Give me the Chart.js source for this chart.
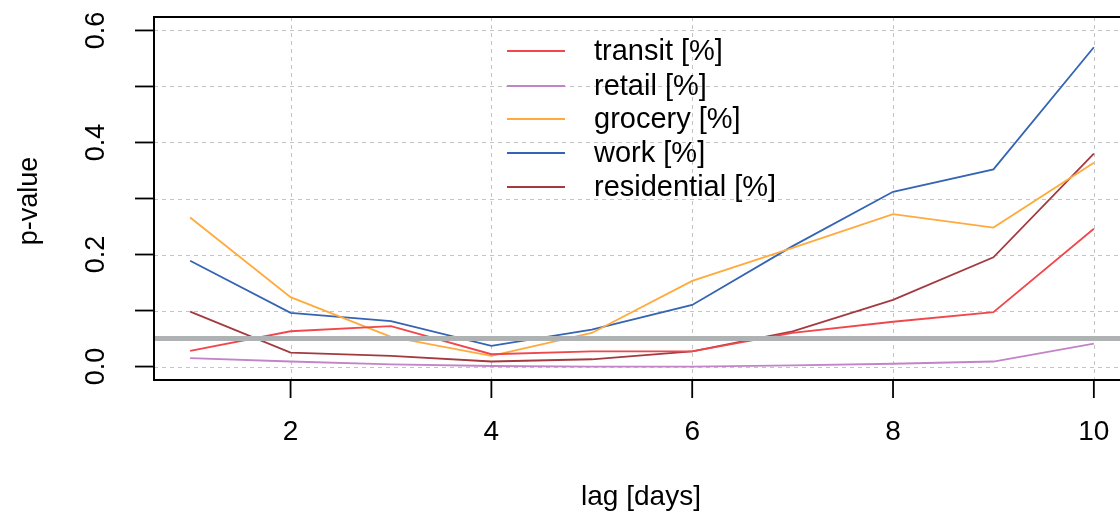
<!DOCTYPE html>
<html>
<head>
<meta charset="utf-8">
<script src="https://cdn.jsdelivr.net/npm/chart.js@4.4.1/dist/chart.umd.min.js"></script>
<style>
  html, body { margin: 0; padding: 0; overflow: hidden; background: #fff; }
  #wrap { width: 1140px; height: 517px; }
</style>
</head>
<body>
<div id="wrap"><canvas id="grafica" width="1140" height="517"></canvas></div>
<script>
const lags = [1, 2, 3, 4, 5, 6, 7, 8, 9, 10];
const transit = [0.028, 0.063, 0.072, 0.022, 0.027, 0.027, 0.060, 0.080, 0.097, 0.246];
const retail = [0.015, 0.009, 0.004, 0.001, 0.000, 0.000, 0.002, 0.005, 0.009, 0.041];
const grocery = [0.266, 0.124, 0.053, 0.019, 0.060, 0.153, 0.212, 0.272, 0.248, 0.364];
const work = [0.189, 0.096, 0.081, 0.037, 0.066, 0.110, 0.215, 0.312, 0.352, 0.570];
const residential = [0.098, 0.025, 0.019, 0.009, 0.013, 0.027, 0.063, 0.119, 0.195, 0.380];

const seriesNames = ['transit [%]', 'retail [%]', 'grocery [%]', 'work [%]', 'residential [%]'];
const seriesColors = ['#F0474C', '#C383C9', '#FFAA3C', '#3564B4', '#A33A40'];
const xTicks = [2, 4, 6, 8, 10];
const yTicks = [0, 0.1, 0.2, 0.3, 0.4, 0.5, 0.6];
const yLabels = [0, 0.2, 0.4, 0.6];
const threshold = 0.05;

const FONT = '"Liberation Sans", Arial, sans-serif';

function toPoints(values) {
    return values.map((v, i) => ({ x: lags[i], y: v }));
}

const allSeries = [transit, retail, grocery, work, residential];

const rPlot = {
    id: 'rPlot',
    beforeDatasetsDraw(chart) {
        const ctx = chart.ctx;
        const xs = chart.scales.x;
        const ys = chart.scales.y;
        const a = chart.chartArea;
        ctx.save();
        // dotted grid
        ctx.strokeStyle = '#c4c4c4';
        ctx.lineWidth = 1;
        ctx.setLineDash([4, 4]);
        xTicks.forEach(t => {
            const px = Math.round(xs.getPixelForValue(t)) + 0.5;
            ctx.beginPath(); ctx.moveTo(px, a.top); ctx.lineTo(px, a.bottom); ctx.stroke();
        });
        yTicks.forEach(t => {
            const py = Math.round(ys.getPixelForValue(t)) + 0.5;
            ctx.beginPath(); ctx.moveTo(a.left, py); ctx.lineTo(a.right, py); ctx.stroke();
        });
        ctx.restore();
    },
    afterDatasetsDraw(chart) {
        const ctx = chart.ctx;
        const xs = chart.scales.x;
        const ys = chart.scales.y;
        const a = chart.chartArea;
        ctx.save();
        // threshold line
        const py = ys.getPixelForValue(threshold);
        ctx.strokeStyle = '#aeb2b2';
        ctx.lineWidth = 5;
        ctx.beginPath(); ctx.moveTo(a.left, py); ctx.lineTo(a.right, py); ctx.stroke();

        // box
        ctx.strokeStyle = '#000';
        ctx.lineWidth = 2;
        ctx.strokeRect(a.left, a.top, a.right - a.left, a.bottom - a.top);

        // ticks
        ctx.lineWidth = 1.8;
        xTicks.forEach(t => {
            const px = xs.getPixelForValue(t);
            ctx.beginPath(); ctx.moveTo(px, a.bottom); ctx.lineTo(px, a.bottom + 18); ctx.stroke();
        });
        yTicks.forEach(t => {
            const p = ys.getPixelForValue(t);
            ctx.beginPath(); ctx.moveTo(a.left, p); ctx.lineTo(a.left - 19, p); ctx.stroke();
        });

        // tick labels
        ctx.fillStyle = '#000';
        ctx.font = '28px ' + FONT;
        ctx.textAlign = 'center';
        ctx.textBaseline = 'middle';
        xTicks.forEach(t => {
            ctx.fillText(String(t), xs.getPixelForValue(t), 432);
        });
        ctx.fillText('lag [days]', 641, 497);

        ctx.font = '27px ' + FONT;
        yLabels.forEach(t => {
            ctx.save();
            ctx.translate(97, ys.getPixelForValue(t));
            ctx.rotate(-Math.PI / 2);
            ctx.fillText(t.toFixed(1), 0, 0);
            ctx.restore();
        });
        ctx.save();
        ctx.translate(30, 201);
        ctx.rotate(-Math.PI / 2);
        ctx.fillText('p-value', 0, 0);
        ctx.restore();

        // legend
        ctx.font = '29px ' + FONT;
        ctx.textAlign = 'left';
        const legY = [51, 86, 119, 153, 187];
        seriesNames.forEach((name, i) => {
            ctx.strokeStyle = seriesColors[i];
            ctx.lineWidth = 2;
            ctx.beginPath(); ctx.moveTo(507, legY[i]); ctx.lineTo(565, legY[i]); ctx.stroke();
            ctx.fillStyle = '#000';
            ctx.fillText(name, 594, legY[i] + 1);
        });
        ctx.restore();
    }
};

new Chart(document.getElementById('grafica').getContext('2d'), {
    type: 'line',
    data: {
        datasets: seriesNames.map((name, i) => ({
            label: name,
            data: toPoints(allSeries[i]),
            borderColor: seriesColors[i],
            borderWidth: 1.8,
            pointRadius: 0,
            tension: 0,
            fill: false
        }))
    },
    options: {
        responsive: false,
        animation: false,
        layout: { padding: { left: 154, top: 17, right: 10, bottom: 137 } },
        plugins: { legend: { display: false }, tooltip: { enabled: false } },
        scales: {
            x: { type: 'linear', min: 0.64, max: 10.36, display: false },
            y: { type: 'linear', min: -0.024, max: 0.624, display: false }
        }
    },
    plugins: [rPlot]
});
</script>
</body>
</html>
